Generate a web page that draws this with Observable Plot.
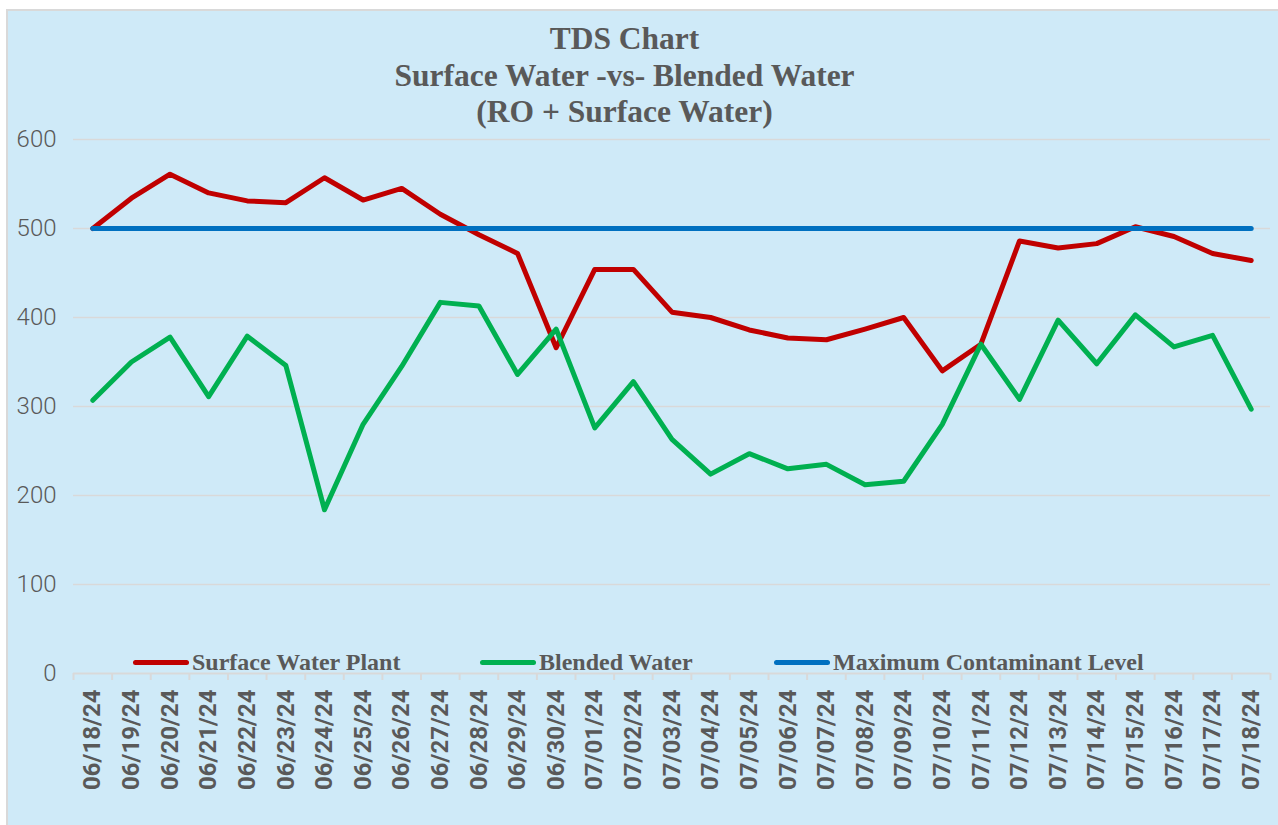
<!DOCTYPE html>
<html><head><meta charset="utf-8">
<script src="https://cdn.jsdelivr.net/npm/d3@7"></script>
<script src="https://cdn.jsdelivr.net/npm/@observablehq/plot@0.6"></script>
<style>
html,body{margin:0;padding:0;background:#fff;width:1278px;height:825px;overflow:hidden;}
#frame{position:absolute;left:6px;top:9px;width:1300px;height:840px;background:#cfeaf8;border-left:2px solid #d9d9d9;border-top:2px solid #d9d9d9;}
#chart{position:absolute;left:0;top:0;}
#title{position:absolute;left:0;top:21px;width:1249px;text-align:center;font:bold 31.5px/36.5px "Liberation Serif";color:#595959;}
.leg-line{position:absolute;height:5px;border-radius:3px;}
.leg-text{position:absolute;font:bold 24px/24px "Liberation Serif";color:#595959;white-space:nowrap;}
</style></head><body>
<div id="frame"></div>
<div id="chart"></div>
<div id="title">TDS Chart<br>Surface Water -vs- Blended Water<br>(RO + Surface Water)</div>
<div id="legend"></div>
<script>
const dates = ["06/18/24","06/19/24","06/20/24","06/21/24","06/22/24","06/23/24","06/24/24","06/25/24","06/26/24","06/27/24","06/28/24","06/29/24","06/30/24","07/01/24","07/02/24","07/03/24","07/04/24","07/05/24","07/06/24","07/07/24","07/08/24","07/09/24","07/10/24","07/11/24","07/12/24","07/13/24","07/14/24","07/15/24","07/16/24","07/17/24","07/18/24"];
const surfaceWater = [500,534,561,540,531,529,557,532,545,516,493,472,366,454,454,406,400,386,377,375,387,400,340,370,486,478,483,502,491,472,464];
const blendedWater = [307,350,378,311,379,346,184,280,345,417,413,336,387,276,328,263,224,247,230,235,212,216,280,370,308,397,348,403,367,380,297];
const maxContaminant = [500,500,500,500,500,500,500,500,500,500,500,500,500,500,500,500,500,500,500,500,500,500,500,500,500,500,500,500,500,500,500];
const yTicks = [0,100,200,300,400,500,600];
const legendLabels = ["Surface Water Plant","Blended Water","Maximum Contaminant Level"];
const legendColors = ["#c00000","#00b050","#0070c0"];
const legendLeft = [133,480,774];

const idx = d3.range(dates.length);
const rows = s => idx.map(i => ({i, v: s[i]}));
const bounds = d3.range(-0.5, dates.length, 1);

const plot = Plot.plot({
  width:1278, height:825,
  marginLeft:73, marginRight:8, marginTop:139, marginBottom:152,
  style:{background:"transparent", color:"#595959", fontFamily:"Roboto"},
  x:{type:"linear", domain:[-0.5, dates.length-0.5], label:null},
  y:{domain:[0,600], label:null},
  marks:[
    Plot.ruleY(yTicks.filter(d=>d>0), {stroke:"#d9d9d9", strokeWidth:1.5}),
    Plot.axisY(yTicks, {tickSize:0, tickPadding:17, fontSize:24, fontWeight:300, fill:"#595959", label:null}),
    Plot.axisX(bounds, {tickSize:7, stroke:"#d9d9d9", strokeWidth:2, tickFormat:()=>"", label:null}),
    Plot.axisX(idx, {tickSize:0, tickPadding:16, tickRotate:-90, tickFormat:i=>dates[i], fontSize:24, fontWeight:"bold", fill:"#595959", label:null}),
    Plot.ruleY([0], {stroke:"#d9d9d9", strokeWidth:2}),
    Plot.lineY(rows(surfaceWater), {x:"i", y:"v", stroke:legendColors[0], strokeWidth:5, strokeLinecap:"round", strokeLinejoin:"round"}),
    Plot.lineY(rows(blendedWater), {x:"i", y:"v", stroke:legendColors[1], strokeWidth:5, strokeLinecap:"round", strokeLinejoin:"round"}),
    Plot.lineY(rows(maxContaminant), {x:"i", y:"v", stroke:legendColors[2], strokeWidth:5, strokeLinecap:"round", strokeLinejoin:"round"})
  ]
});
document.getElementById("chart").appendChild(plot);

const leg = document.getElementById("legend");
legendLabels.forEach((lab, k) => {
  const ln = document.createElement("div");
  ln.className = "leg-line";
  ln.style.left = legendLeft[k] + "px";
  ln.style.top = "659.5px";
  ln.style.width = "56px";
  ln.style.background = legendColors[k];
  leg.appendChild(ln);
  const tx = document.createElement("div");
  tx.className = "leg-text";
  tx.style.left = (legendLeft[k] + 59) + "px";
  tx.style.top = "650px";
  tx.textContent = lab;
  leg.appendChild(tx);
});
</script>
</body></html>
